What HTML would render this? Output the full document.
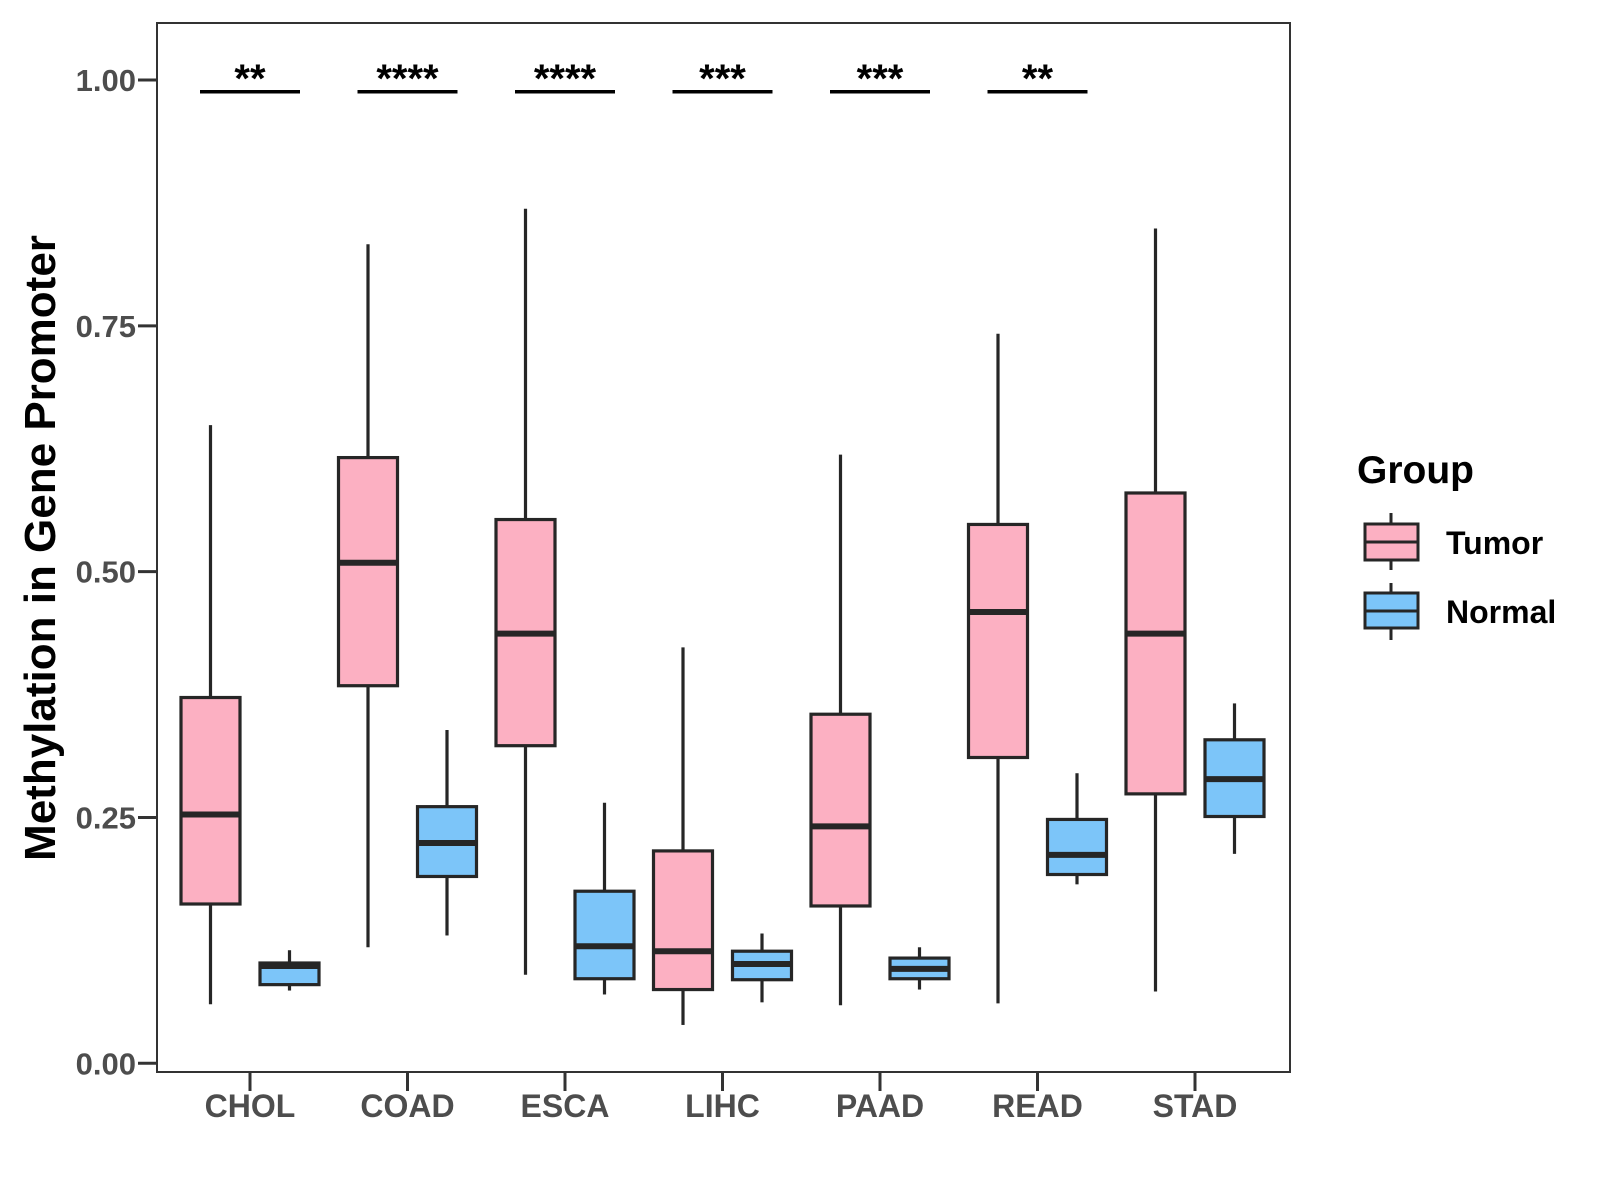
<!DOCTYPE html>
<html><head><meta charset="utf-8"><style>
html,body{margin:0;padding:0;background:#fff;}
svg{display:block;font-family:"Liberation Sans",Arial,sans-serif;}
</style></head><body>
<svg id="chart" width="1600" height="1200" viewBox="0 0 1600 1200">
<rect x="157" y="23" width="1133" height="1049" fill="#fff" stroke="#333" stroke-width="2"/>
<g id="yaxis"></g>
<g id="xaxis"></g>
<g id="boxes"></g>
<g id="sig"></g>
<text x="0" y="0" transform="translate(55,548) rotate(-90)" text-anchor="middle" font-size="44" font-weight="bold" fill="#000">Methylation in Gene Promoter</text>
<g>
<text x="1357" y="483" font-size="39" font-weight="bold" fill="#000">Group</text>
<g>
<line x1="1391" y1="513" x2="1391" y2="570" stroke="#262626" stroke-width="3"/>
<rect x="1365" y="524" width="53" height="36" fill="#FCB0C2" stroke="#262626" stroke-width="3"/>
<line x1="1365" y1="542" x2="1418" y2="542" stroke="#262626" stroke-width="3"/>
<text x="1446" y="554" font-size="32" font-weight="bold" fill="#000">Tumor</text>
</g>
<g>
<line x1="1391" y1="583" x2="1391" y2="640" stroke="#262626" stroke-width="3"/>
<rect x="1365" y="593" width="53" height="35" fill="#7CC5F9" stroke="#262626" stroke-width="3"/>
<line x1="1365" y1="611" x2="1418" y2="611" stroke="#262626" stroke-width="3"/>
<text x="1446" y="623" font-size="32" font-weight="bold" fill="#000">Normal</text>
</g>
</g>
</svg>
<script>
const categories = ["CHOL","COAD","ESCA","LIHC","PAAD","READ","STAD"];
const tumorLow = [0.060,0.118,0.090,0.039,0.059,0.061,0.073];
const tumorQ1  = [0.162,0.384,0.323,0.075,0.160,0.311,0.274];
const tumorMed = [0.253,0.509,0.437,0.114,0.241,0.459,0.437];
const tumorQ3  = [0.372,0.616,0.553,0.216,0.355,0.548,0.580];
const tumorHigh= [0.649,0.833,0.869,0.423,0.619,0.742,0.849];
const normalLow = [0.074,0.130,0.070,0.062,0.075,0.182,0.213];
const normalQ1  = [0.080,0.190,0.086,0.085,0.086,0.192,0.251];
const normalMed = [0.099,0.224,0.119,0.101,0.096,0.212,0.289];
const normalQ3  = [0.102,0.261,0.175,0.114,0.107,0.248,0.329];
const normalHigh= [0.115,0.339,0.265,0.132,0.118,0.295,0.366];
const sigLabels = ["**","****","****","***","***","**"];
const sigLevel = 0.988;
const yTicks = [0,0.25,0.5,0.75,1.0];
const yTickLabels = ["0.00","0.25","0.50","0.75","1.00"];

const NS="http://www.w3.org/2000/svg";
const y = v => 1063.3 - v*983.3;
const x = i => 250 + i*157.5;
function el(tag, attrs, parent){const e=document.createElementNS(NS,tag);for(const k in attrs)e.setAttribute(k,attrs[k]);parent.appendChild(e);return e;}
const yaxis=document.getElementById('yaxis'), xaxis=document.getElementById('xaxis'), boxes=document.getElementById('boxes'), sig=document.getElementById('sig');
yTicks.forEach((t,i)=>{
  const l=el('line',{x1:138,x2:157,y1:y(t),y2:y(t),stroke:'#333','stroke-width':3},yaxis);
  
  
  const tx=el('text',{x:136,y:y(t)+11,'text-anchor':'end','font-size':31,'font-weight':'bold',fill:'#4d4d4d'},yaxis);
  tx.textContent=yTickLabels[i];
  
  
});
categories.forEach((c,i)=>{
  const l=el('line',{x1:x(i),x2:x(i),y1:1072,y2:1091,stroke:'#333','stroke-width':3},xaxis);
  
  
  const tx=el('text',{x:x(i),y:1117,'text-anchor':'middle','font-size':32,'font-weight':'bold',fill:'#4d4d4d'},xaxis);
  tx.textContent=c;
  
  
});
function drawBox(cx, lo,q1,md,q3,hi, fill, name){
  const g=el('g',{},boxes);
  
  
  const hw=29.5;
  el('line',{x1:cx,x2:cx,y1:y(hi),y2:y(q3),stroke:'#262626','stroke-width':3.2},g);
  el('line',{x1:cx,x2:cx,y1:y(q1),y2:y(lo),stroke:'#262626','stroke-width':3.2},g);
  el('rect',{x:cx-hw,y:y(q3),width:2*hw,height:y(q1)-y(q3),fill:fill,stroke:'#262626','stroke-width':3.2},g);
  el('line',{x1:cx-hw,x2:cx+hw,y1:y(md),y2:y(md),stroke:'#262626','stroke-width':6},g);
}
categories.forEach((c,i)=>{
  drawBox(x(i)-39.5,tumorLow[i],tumorQ1[i],tumorMed[i],tumorQ3[i],tumorHigh[i],'#FCB0C2','box-tumor-'+c.toLowerCase());
  drawBox(x(i)+39.5,normalLow[i],normalQ1[i],normalMed[i],normalQ3[i],normalHigh[i],'#7CC5F9','box-normal-'+c.toLowerCase());
});
sigLabels.forEach((s,i)=>{
  const l=el('line',{x1:x(i)-50,x2:x(i)+50,y1:y(sigLevel),y2:y(sigLevel),stroke:'#000','stroke-width':3.5},sig);
  
  
  const tx=el('text',{x:x(i),y:y(sigLevel),'text-anchor':'middle','font-size':40,'font-weight':'bold',fill:'#000'},sig);
  tx.textContent=s;
  
  
});
</script>
</body></html>
